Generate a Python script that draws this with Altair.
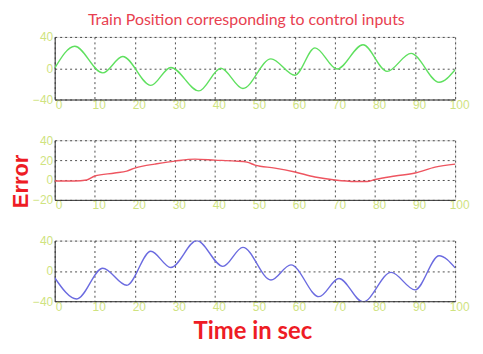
import altair as alt
import pandas as pd

# Panel 1: train position (green)
t1 = [0, 5, 12, 17, 24, 29, 36, 41.5, 47, 54, 60, 65, 70.5, 77, 83, 89, 96, 100]
v1 = [0, 28, -6, 15, -22, 1, -29, 0, -26, 12, -9, 26, -1, 30, -4, 19, -18, -2]

# Panel 2: error (red)
t2 = [0, 5, 8, 10, 15, 18, 20, 22, 25, 30, 35, 40, 45, 48, 50, 55, 60, 65, 70, 75, 78, 80, 85, 90, 95, 100]
v2 = [-1, -1, 0, 4, 7, 9, 12, 14, 16, 19, 21, 20, 19, 18, 15, 12, 8, 3, 0, -1.5, -1.5, 0.5, 4, 7, 13, 16]

# Panel 3: control input (blue)
t3 = [0, 5.5, 12, 18, 24, 29, 35.5, 42, 47, 54, 59, 66, 71, 77, 84, 90, 96, 100]
v3 = [-9, -37, 3.5, -19, 26, 4.5, 40, 6, 31, -12, 8, -34, -10, -41, -2, -25, 20, 4]

x_ticks = [0, 10, 20, 30, 40, 50, 60, 70, 80, 90, 100]

LABEL_COLOR = "#cfe37f"
RED = "#ee1c25"
W = 403


def panel(t, v, color, ydomain, yticks, h, ytitle=None, xtitle=None):
    df = pd.DataFrame({"t": t, "v": v})
    yaxis = dict(values=yticks, grid=True, gridColor="#222", gridDash=[2, 3],
                 gridOpacity=0.8, tickSize=0, labelPadding=2, labelColor=LABEL_COLOR,
                 labelFontSize=12, labelFont="Liberation Sans", domainColor="#333")
    if ytitle:
        yaxis.update(title=ytitle, titleFontSize=22, titleFont="Liberation Sans", titleFontWeight="bold",
                     titleColor=RED, titlePadding=0, titleY=41)
    xaxis = dict(values=x_ticks, grid=True, gridColor="#222", gridDash=[2, 3],
                 gridOpacity=0.8, tickSize=0, labelPadding=0, labelColor=LABEL_COLOR,
                 labelFontSize=12, labelFont="Liberation Sans", domainColor="#333",
                 labelFlush=False, labelOffset=4)
    if xtitle:
        xaxis.update(title=xtitle, titleFontSize=24, titleFont="Lato", titleFontWeight="bold",
                     titleColor=RED, titlePadding=8, titleX=199)
    yax = alt.Axis(**yaxis) if ytitle else alt.Axis(title=None, **yaxis)
    xax = alt.Axis(**xaxis) if xtitle else alt.Axis(title=None, **xaxis)
    return alt.Chart(df).mark_line(color=color, strokeWidth=1.4, interpolate="monotone", clip=True).encode(
        x=alt.X("t:Q", scale=alt.Scale(domain=[0, 100], nice=False), axis=xax),
        y=alt.Y("v:Q", scale=alt.Scale(domain=ydomain, nice=False, zero=False), axis=yax),
    ).properties(width=W, height=h)


p1 = panel(t1, v1, "#5fe05f", [-40, 40], [-40, 0, 40], 63)
p2 = panel(t2, v2, "#ee5560", [-20, 40], [-20, 0, 20, 40], 60, ytitle="Error")
p3 = panel(t3, v3, "#6b6be0", [-40, 40], [-40, 0, 40], 61, xtitle="Time in sec")

chart = alt.vconcat(p1, p2, p3, spacing=41, bounds="flush").properties(
    title=alt.TitleParams("Train Position corresponding to control inputs", fontSize=16,
                          font="Lato", fontWeight="normal", color="#e8404f", anchor="middle",
                          dx=7, offset=2),
    padding={"left": 1, "top": 3, "right": 5, "bottom": 5},
).configure_view(stroke="#333", strokeWidth=1).configure(background="white")

chart.save("out.html", embed_options={"renderer": "svg", "actions": False})
